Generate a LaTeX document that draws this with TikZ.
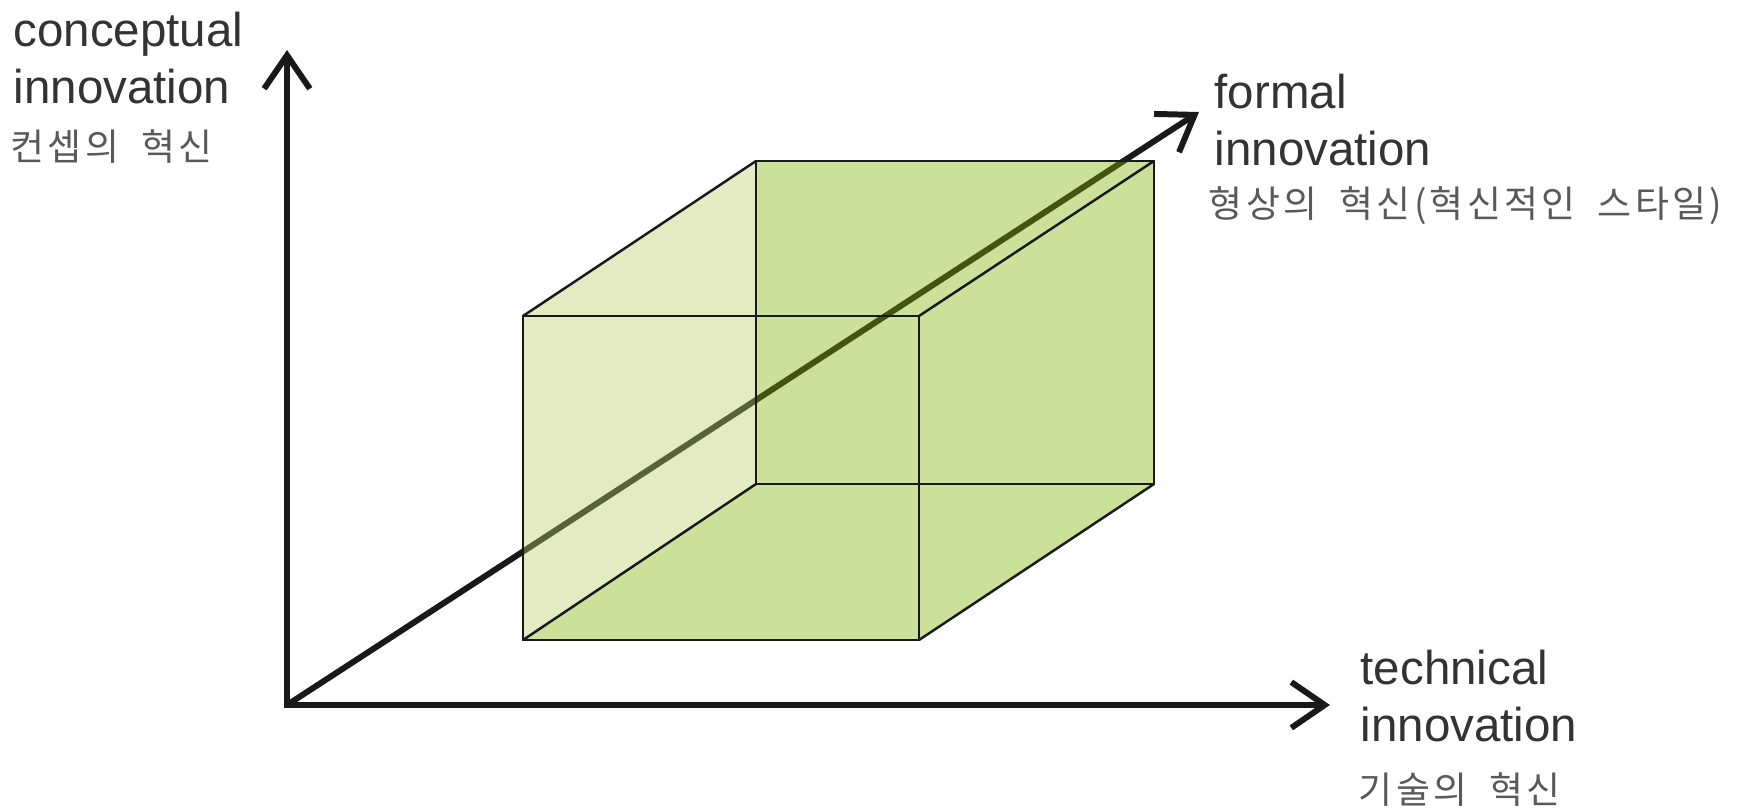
\documentclass[tikz,border=0pt]{standalone}
\usepackage{fontspec}
\setmainfont{Liberation Sans}
\newfontfamily\kfont[LetterSpace=9]{Noto Sans CJK KR}
\usetikzlibrary{positioning, arrows.meta}
\definecolor{cubelight}{RGB}{187,205,102}
\definecolor{cubedark}{RGB}{125,177,0}
\newcommand{\ksp}{\hspace{0.6em}}
\tikzset{
  barb/.tip={Straight Barb[length=9.5pt,width=13pt]},
  axis/.style={-barb, line width=1.7pt, draw=black!90},
  axes/.style={barb-barb, line width=1.7pt, draw=black!90},
  edge/.style={line width=0.7pt, draw=black!90},
  face/.style={fill opacity=0.4, draw=none},
  lbl/.style={font=\fontsize{13.5}{16.2}\selectfont, text=black!80, align=left, inner sep=0pt},
  klbl/.style={font=\kfont\fontsize{10.5}{12}\selectfont, text=black!65, inner sep=0pt}
}

\begin{document}
\begin{tikzpicture}[x=0.01cm, y=-0.01cm]
\useasboundingbox (0,0) rectangle (1738,809);
% axes
\coordinate (o) at (287,705);
\coordinate (ytip) at (287,50);
\coordinate (xtip) at (1330,705);
\coordinate (ztip) at (1199,112);
% cube corners: front face (f..) and back face (b..)
\coordinate (ftl) at (523,316); \coordinate (ftr) at (919,316);
\coordinate (fbl) at (523,640); \coordinate (fbr) at (919,640);
\coordinate (btl) at (756,161); \coordinate (btr) at (1154,161);
\coordinate (bbl) at (756,484); \coordinate (bbr) at (1154,484);
\draw[axis] (o) -- (ztip);
% see-through faces
\fill[face, cubelight] (ftl) -- (btl) -- (bbl) -- (fbl) -- cycle;
\fill[face, cubedark] (btl) -- (btr) -- (bbr) -- (fbr) -- (fbl) -- (bbl) -- cycle;
\draw[edge] (ftl) rectangle (fbr);
\draw[edge] (btl) rectangle (bbr);
\draw[edge] (ftl) -- (btl) (ftr) -- (btr) (fbl) -- (bbl) (fbr) -- (bbr);
\draw[axes] (ytip) -- (o) -- (xtip);
% labels
\node[lbl, anchor=north west] (concept) at (13,11) {conceptual\\innovation};
\node[klbl, anchor=base west] (conceptk) at (10,160) {컨셉의\ksp 혁신};
\node[lbl, anchor=north west] (formal) at (1214,73) {formal\\innovation};
\node[klbl, anchor=base west] (formalk) at (1208,217) {형상의\ksp 혁신(혁신적인\ksp 스타일)};
\node[lbl, anchor=north west] (tech) at (1360,649) {technical\\innovation};
\node[klbl, anchor=base west] (techk) at (1358,803) {기술의\ksp 혁신};
\end{tikzpicture}
\end{document}
